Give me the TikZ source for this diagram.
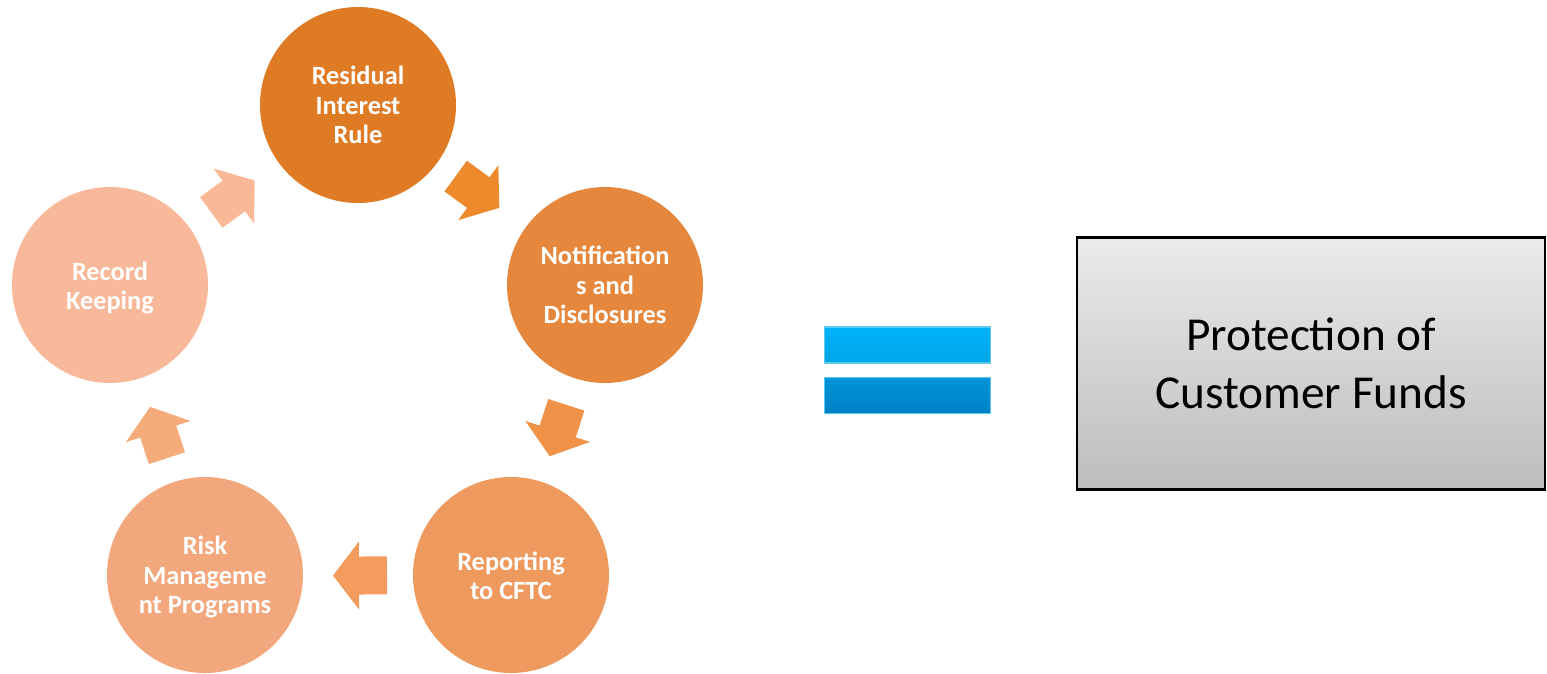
\documentclass[tikz,border=0pt]{standalone}
\usepackage{fontspec}
\setmainfont{Carlito}
\usetikzlibrary{calc}
\definecolor{cA}{HTML}{DF7B25}
\definecolor{cB}{HTML}{E5883D}
\definecolor{cC}{HTML}{EE9A5F}
\definecolor{cD}{HTML}{F2A87C}
\definecolor{cE}{HTML}{F8B99A}
\definecolor{aA}{HTML}{EC8A2C}
\definecolor{aB}{HTML}{F09247}
\definecolor{aC}{HTML}{F39C5E}
\definecolor{aD}{HTML}{F6AB7B}
\definecolor{aE}{HTML}{F9B996}
\definecolor{eqTopA}{HTML}{00B2FA}
\definecolor{eqTopB}{HTML}{00A6E6}
\definecolor{eqBotA}{HTML}{0094D9}
\definecolor{eqBotB}{HTML}{0080C6}
\definecolor{eqEdge}{HTML}{5CC8EE}
\tikzset{
  stage/.style={circle, minimum size=196\pgflinewidth, inner sep=0pt, text=white,
    font=\fontsize{15}{16.7}\selectfont\bfseries, align=center},
  blockarrow/.pic={\fill[#1] (-27,-19) -- (1,-19) -- (1,-34) -- (27,0) -- (1,34) -- (1,19) -- (-27,19) -- cycle;},
  eqbar/.style={draw=eqEdge, line width=0.6pt},
}
\begin{document}
\begin{tikzpicture}[x=0.02cm, y=-0.02cm]
\useasboundingbox (0,0) rectangle (1547,673);
% circles
\fill[cA] (358,105) circle (98);
\fill[cB] (605,285) circle (98);
\fill[cC] (511,575) circle (98);
\fill[cD] (205,575) circle (98);
\fill[cE] (110,285) circle (98);
\node[stage] (c1) at (358,105) {Residual\\Interest\\Rule};
\node[stage] (c2) at (605,285) {Notification\\s and\\Disclosures};
\node[stage] (c3) at (511,576) {Reporting\\to CFTC};
\node[stage] (c4) at (205,577) {Risk\\Manageme\\nt Programs};
\node[stage] (c5) at (110,288) {Record\\Keeping};
% block arrows between stages
\path let \p1=($(c2)-(c1)$), \n1={atan2(\y1,\x1)} in pic[rotate=\n1] at ($(c1)!0.5!(c2)+(-4,-3)$) {blockarrow=aA};
\path let \p1=($(c3)-(c2)$), \n1={atan2(\y1,\x1)} in pic[rotate=\n1] at ($(c2)!0.5!(c3)$) {blockarrow=aB};
\path let \p1=($(c4)-(c3)$), \n1={atan2(\y1,\x1)} in pic[rotate=\n1] at ($(c3)!0.5!(c4)+(2,-1)$) {blockarrow=aC};
\path let \p1=($(c5)-(c4)$), \n1={atan2(\y1,\x1)} in pic[rotate=\n1] at ($(c4)!0.5!(c5)+(1,0)$) {blockarrow=aD};
\path let \p1=($(c1)-(c5)$), \n1={atan2(\y1,\x1)} in pic[rotate=\n1] at ($(c5)!0.5!(c1)+(-1,0)$) {blockarrow=aE};
% equals sign
\node[eqbar, top color=eqTopA, bottom color=eqTopB, minimum width=166*0.02cm, minimum height=36*0.02cm, inner sep=0pt] (eq1) at (907.5,345) {};
\node[eqbar, top color=eqBotA, bottom color=eqBotB, minimum width=166*0.02cm, minimum height=36*0.02cm, inner sep=0pt] (eq2) at (907.5,395.5) {};
% result box
\node[draw=black, line width=1.4pt, top color=black!8, bottom color=black!26,
  minimum width=468*0.02cm, minimum height=252*0.02cm, inner sep=0pt, align=center,
  font=\fontsize{26.9}{33}\selectfont] (res) at (1311,363.5) {Protection of\\Customer Funds};
\end{tikzpicture}
\end{document}
